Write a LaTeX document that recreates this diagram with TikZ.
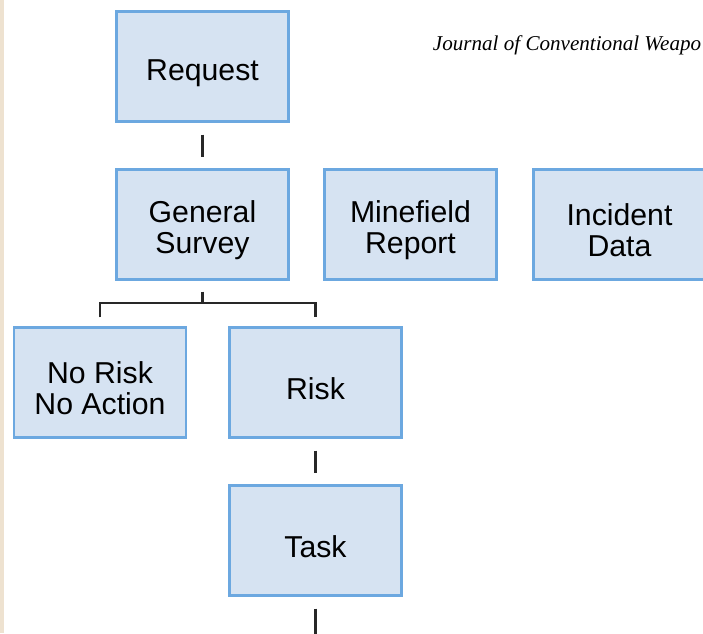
\documentclass[tikz,border=0pt]{standalone}
\usepackage{fontspec}
\setmainfont{Liberation Sans}
\newfontfamily\journalfont{Liberation Serif}
\usepackage{tikz}
\usetikzlibrary{positioning, calc}

\definecolor{boxfill}{RGB}{214,227,242}
\definecolor{boxline}{RGB}{108,168,224}
\definecolor{linkgray}{RGB}{40,40,40}
\definecolor{paper}{RGB}{238,226,208}
\newcommand{\lift}{\rule{0pt}{24pt}}

\begin{document}
\begin{tikzpicture}[x=0.025cm, y=-0.025cm,
    stage/.style={draw=boxline, fill=boxfill, line width=1.5pt, minimum width=4.3cm, minimum height=2.75cm,
        align=center, inner sep=0pt, font=\fontsize{21.5}{22}\selectfont},
    link/.style={draw=linkgray, line width=2.1pt}]
        \useasboundingbox (0,0) rectangle (703,633);
        \clip (0,0) rectangle (703,633);
        \fill[white] (0,0) rectangle (703,633);
        \fill[paper] (0,0) rectangle (4,633);
        \node[anchor=base west, font=\journalfont\itshape\fontsize{15}{17}\selectfont] (journal) at (428,50) {Journal of Conventional Weapo};
        % top row
        \node[stage] (request) at (202.5,66.5) {\lift Request};
        \node[stage] (survey) at (202.5,224.5) {\lift General\\Survey};
        \node[stage] (minefield) at (410.5,224.5) {\lift Minefield\\Report};
        \node[stage] (incident) at (619.5,224.5) {\lift Incident\\Data};
        % outcomes
        \node[stage] (norisk) at (100,382.5) {\lift No Risk\\No Action};
        \node[stage] (risk) at (315.5,382.5) {\lift Risk};
        \node[stage] (task) at (315.5,540.5) {\lift Task};
        % links
        \draw[link, shorten <=0.3cm, shorten >=0.28cm] (request.south) -- (survey.north);
        \coordinate (fork) at (202.5,303);
        \draw[link] ([yshift=-0.275cm]survey.south) -- (fork);
        \draw[link] ([yshift=0.225cm]norisk.north) -- (norisk.north |- fork) -- (risk.north |- fork) -- ([yshift=0.225cm]risk.north);
        \draw[link, shorten <=0.3cm, shorten >=0.28cm] (risk.south) -- (task.north);
        \coordinate (next) at (315.5,650);
        \draw[link, shorten <=0.3cm] (task.south) -- (next);
    \end{tikzpicture}
\end{document}
